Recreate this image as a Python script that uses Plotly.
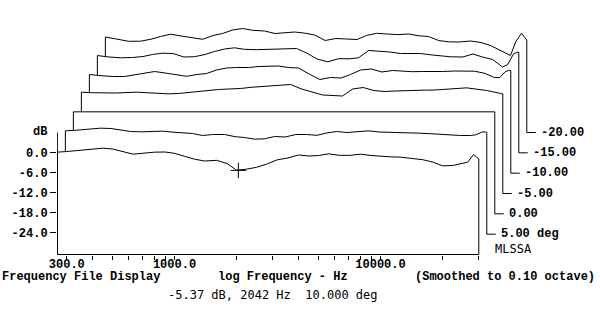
import math
import plotly.graph_objects as go

# ---------------- data ----------------
freq_hz = [270, 300, 350, 400, 450, 500, 560, 630, 710, 800, 900, 1000, 1120, 1250,
           1400, 1600, 1800, 2000, 2240, 2500, 2800, 3150, 3550, 4000, 4500, 5000,
           5600, 6300, 7100, 8000, 9000, 10000, 11200, 12500, 14000, 16000, 18000,
           20000, 22400, 25000, 26500, 28300, 29300, 30000]

resp_10deg = [0.1, 0.3, 0.6, 1.0, 1.3, 1.05, 0.3, -0.5, -0.2, 0.1, 0.15, -0.25, -1.15, -2.0,
              -2.55, -2.35, -3.3, -5.3, -5.0, -4.45, -3.5, -2.2, -1.65, -0.75, -1.05, -0.9,
              -0.4, -0.85, -0.85, -0.5, -0.9, -1.2, -1.3, -1.4, -1.75, -2.15, -2.9,
              -4.0, -3.9, -3.3, -2.9, -0.6, -1.4, -1.95]
resp_5deg = [0.4, 0.55, 0.8, 1.2, 1.1, 0.65, 0.2, 0.1, 0.3, 0.3, 0.0, -0.1, -0.4, -1.0,
             -0.7, -0.7, -1.35, -1.6, -2.1, -2.0, -1.3, -1.45, -0.7, -0.7, -0.94, -0.25,
             0.2, -0.1, 0.05, 0.4, 0.05, 0.0, -0.1, -0.2, -0.3, -0.46, -0.7,
             -0.85, -1.0, -1.0, -0.8, 0.0, 0.1, -0.1]
resp_0deg = [0.0] * 44
resp_m5deg = [-0.2, -0.36, -0.5, -0.45, -0.3, -0.2, -0.36, -0.54, -0.7, -0.6, -0.24, 0.06, 0.4, 0.6,
              0.75, 0.9, 1.26, 1.5, 1.8, 1.95, 2.1, 0.8, -0.2, -1.05, -1.2, -1.35,
              0.75, 1.2, 0.3, 0.0, 0.15, 0.3, 0.3, 0.4, 0.45, 0.6, 0.9,
              1.1, 0.75, 0.3, 0.0, -0.5, -0.6, -0.7]
resp_m10deg = [-1.0, -1.3, -1.6, -1.6, -1.15, -0.55, -0.1, -0.55, -1.0, -1.54, -1.0, -0.7, 0.35, 0.95,
               1.1, 1.1, 1.4, 1.55, 1.55, 1.1, 0.95, -0.85, -2.5, -1.9, -2.05, -1.0,
               0.35, 0.65, -0.25, 0.2, -0.04, -0.16, -0.1, -0.16, -0.1, 0.05, 0.05,
               -0.01, -0.64, -1.9, -1.9, -0.1, 0.2, 0.2]
resp_m15deg = [-1.4, -1.79, -2.09, -2.0, -1.7, -1.1, -0.71, -0.8, -1.85, -1.76, -1.1, -0.2, 0.55, 0.91,
               0.46, 0.34, 0.4, 0.49, 0.61, 0.7, -0.65, -2.45, -3.29, -2.36, -2.39, -2.09,
               0.1, -0.05, -0.35, -0.8, -0.8, -0.8, -1.19, -1.55, -1.79, -1.85, -0.95,
               -1.85, -2.6, -4.85, -4.1, -0.9, -0.45, -0.4]
resp_m20deg = [-1.95, -2.46, -3.24, -3.21, -2.61, -1.8, -1.11, -1.65, -2.19, -2.64, -1.5, -0.9, 0.15, 0.6,
               0.06, -0.15, -0.9, -0.6, -0.45, -0.78, -1.35, -3.0, -2.4, -2.55, -2.7, -1.5,
               -0.84, -1.05, -1.23, -1.05, -1.59, -1.8, -3.0, -3.39, -3.45, -3.15, -3.6,
               -4.5, -6.0, -7.5, -3.4, -0.8, -2.1, -2.85]

series = [resp_10deg, resp_5deg, resp_0deg, resp_m5deg, resp_m10deg, resp_m15deg, resp_m20deg]
angle_labels = ["MLSSA", "5.00 deg", "0.00", "-5.00", "-10.00", "-15.00", "-20.00"]

x_tick_vals = [300, 400, 500, 600, 700, 800, 900, 1000, 2000, 3000, 4000, 5000, 6000,
               7000, 8000, 9000, 10000, 20000, 30000]
x_tick_labels = {300: "300.0", 1000: "1000.0", 10000: "10000.0"}
y_tick_vals = [0, -6, -12, -18, -24]
y_tick_labels = ["0.0", "-6.0", "-12.0", "-18.0", "-24.0"]

cursor_freq = 2042
cursor_db = -5.37
cursor_text = "-5.37 dB, 2042 Hz  10.000 deg"

# ---------------- geometry ----------------
W, H = 600, 328
ML, MB = 57, 73
PW, PH = W - ML, H - MB
PX_DEC = 206.0                 # pixels per decade
XLO = 3 - (174.5 - ML) / PX_DEC
XHI = XLO + PW / PX_DEC
PX_DB = 10.0 / 3.0             # pixels per dB
YHI = 152.5 / PX_DB
YLO = -(PH - 152.5) / PX_DB
STEP_DEC = 8.0 / PX_DEC        # waterfall shift per curve (x)
STEP_DB = 6.1                  # waterfall shift per curve (y)
BASE_DB = -30.6

def px2paper_x(px):
    return (px - ML) / PW

def px2paper_y(py):
    return (PH - py) / PH

fig = go.Figure()

for k in reversed(range(len(series))):
    shift = 10 ** (k * STEP_DEC)
    xs = [f * shift for f in freq_hz]
    ys = [v + k * STEP_DB for v in series[k]]
    base = BASE_DB + k * STEP_DB
    px = [xs[0]] + xs + [xs[-1]]
    py = [base] + ys + [base]
    fig.add_trace(go.Scatter(x=px, y=py, mode="lines", fill="toself",
                             fillcolor="white", line=dict(width=0, color="white"),
                             hoverinfo="skip"))
    lx, ly = list(px), list(py)
    if k > 0:
        lx.append(xs[-1] * 10 ** (9.0 / PX_DEC))
        ly.append(base)
    fig.add_trace(go.Scatter(x=lx, y=ly, mode="lines",
                             line=dict(color="black", width=1), hoverinfo="skip"))

# axis lines (front curve frame)
fig.add_trace(go.Scatter(x=[freq_hz[0], freq_hz[-1]], y=[BASE_DB, BASE_DB], mode="lines",
                         line=dict(color="black", width=1), hoverinfo="skip"))
fig.add_trace(go.Scatter(x=[freq_hz[0], freq_hz[0]], y=[BASE_DB, 6.0], mode="lines",
                         line=dict(color="black", width=1), hoverinfo="skip"))

# cursor
fig.add_trace(go.Scatter(x=[cursor_freq], y=[cursor_db], mode="markers",
                         marker=dict(symbol="cross-thin", size=11, color="black",
                                     line=dict(width=1, color="black")),
                         hoverinfo="skip"))

bold = dict(family="Liberation Mono, Courier New, monospace", size=12, color="black", weight="bold")
plain = dict(family="DejaVu Sans Mono, monospace", size=12, color="black")

annotations = []
for k, lab in enumerate(angle_labels):
    base = BASE_DB + k * STEP_DB
    xend = freq_hz[-1] * 10 ** (k * STEP_DEC)
    if k == 0:
        annotations.append(dict(x=math.log10(xend) + 14.0 / PX_DEC,
                                y=base + 1.65, xref="x", yref="y", text=lab,
                                showarrow=False, xanchor="left", yanchor="middle", font=plain))
    else:
        annotations.append(dict(x=math.log10(xend) + 12.0 / PX_DEC,
                                y=base, xref="x", yref="y", text=lab,
                                showarrow=False, xanchor="left", yanchor="middle", font=bold))

annotations.append(dict(x=px2paper_x(49), y=px2paper_y(132), xref="paper", yref="paper",
                        text="dB", showarrow=False, xanchor="right", yanchor="middle", font=bold))
annotations.append(dict(x=px2paper_x(0), y=px2paper_y(277), xref="paper", yref="paper",
                        text="Frequency File Display", showarrow=False, xanchor="left",
                        yanchor="middle", font=bold))
annotations.append(dict(x=px2paper_x(216), y=px2paper_y(277), xref="paper", yref="paper",
                        text="log Frequency - Hz", showarrow=False, xanchor="left",
                        yanchor="middle", font=bold))
annotations.append(dict(x=px2paper_x(413), y=px2paper_y(277), xref="paper", yref="paper",
                        text="(Smoothed to 0.10 octave)", showarrow=False, xanchor="left",
                        yanchor="middle", font=bold))
annotations.append(dict(x=px2paper_x(166), y=px2paper_y(295), xref="paper", yref="paper",
                        text=cursor_text, showarrow=False, xanchor="left",
                        yanchor="middle", font=plain))

fig.update_layout(
    width=W, height=H,
    margin=dict(l=ML, r=0, t=0, b=MB, pad=0),
    paper_bgcolor="white", plot_bgcolor="white",
    showlegend=False,
    annotations=annotations,
    xaxis=dict(type="log", range=[XLO, XHI], showgrid=False, zeroline=False, showline=False,
               ticks="outside", ticklen=4, tickwidth=1, tickcolor="black",
               tickmode="array", tickvals=x_tick_vals,
               ticktext=[x_tick_labels.get(v, "") for v in x_tick_vals],
               tickfont=bold, ticklabelstandoff=-6, fixedrange=True),
    yaxis=dict(range=[YLO, YHI], showgrid=False, zeroline=False, showline=False,
               ticks="outside", ticklen=6, tickwidth=1, tickcolor="black",
               tickmode="array", tickvals=y_tick_vals, ticktext=y_tick_labels,
               tickfont=bold, fixedrange=True),
)

fig.write_html("out.html", config={"displayModeBar": False},
               post_script="document.body.style.margin='0';document.body.style.padding='0';")
